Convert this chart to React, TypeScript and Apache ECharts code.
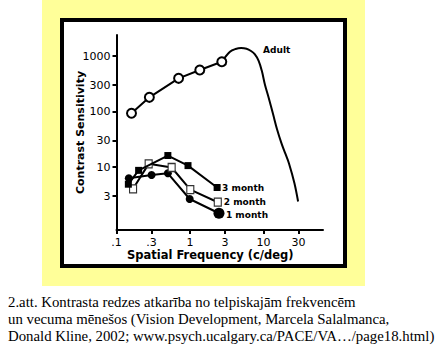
import React, { useEffect, useRef } from "react";
import * as echarts from "echarts";

// Axis ticks (real values) and their printed labels
const xTickValues = [0.1, 0.3, 1, 3, 10, 30];
const xTickLabels = [".1", ".3", "1", "3", "10", "30"];
const yTickValues = [3, 10, 30, 100, 300, 1000];
const yTickLabels = ["3", "10", "30", "100", "300", "1000"];
const xRange = [0.1, 64.6];
const yRange = [0.733, 2390];

// Adult: measured points (open circles) and the fitted curve beyond them
const adultFreq = [0.16, 0.28, 0.7, 1.36, 2.71];
const adultSens = [93, 180, 396, 560, 789];
const adultCurveFreq = [2.71, 3.5, 4.17, 4.96, 5.89, 6.77, 7.6, 8.6, 9.5, 10.5, 11.8, 13.5, 15.3, 17.6, 20, 22.2, 26.4, 29.6];
const adultCurveSens = [789, 1194, 1337, 1393, 1353, 1230, 1080, 820, 540, 300, 175, 90, 48, 26.7, 17, 11.7, 5.1, 2.39];

// Infants
const month3Freq = [0.145, 0.2, 0.5, 0.94, 2.34];
const month3Sens = [4.9, 8.7, 16.1, 10.6, 4.27];
const month2Freq = [0.168, 0.274, 0.563, 1.01, 2.39];
const month2Sens = [4.05, 11.4, 9.8, 3.92, 2.32];
const month1Freq = [0.147, 0.3, 0.5, 0.99, 2.48];
const month1Sens = [6.25, 7.17, 7.7, 2.65, 1.47];

const seriesNames = ["Adult", "3 month", "2 month", "1 month"];

const captionLines = [
  "2.att. Kontrasta redzes atkarība no telpiskajām frekvencēm",
  "un vecuma mēnešos (Vision Development, Marcela Salalmanca,",
  "Donald Kline, 2002; www.psych.ucalgary.ca/PACE/VA…/page18.html)",
];

const lg = (v: number) => Math.log10(v);
const toData = (fx: number[], sy: number[]) => fx.map((f, i) => [lg(f), lg(sy[i])]);

const labelFor = (vals: number[], labels: string[]) => (v: number) => {
  const i = vals.findIndex((t) => Math.abs(lg(t) - v) < 1e-6);
  return i >= 0 ? labels[i] : "";
};

const FONT = "DejaVu Sans";
const SERIF = "'Liberation Serif', 'Times New Roman', serif";

function withEndLabel(data: number[][], text: string, distance: number, offsetY: number) {
  return data.map((d, i) =>
    i === data.length - 1
      ? {
          value: d,
          label: {
            show: true,
            position: "right",
            distance,
            offset: [0, offsetY],
            formatter: text,
            fontFamily: FONT,
            fontWeight: "bold",
            fontSize: 9,
            color: "#000",
          },
        }
      : { value: d }
  );
}

export default function App() {
  const ref = useRef<HTMLDivElement>(null);
  useEffect(() => {
    if (!ref.current) return;
    const chart = echarts.init(ref.current, null, { renderer: "svg" });

    const adultCurve = toData(adultCurveFreq, adultCurveSens);
    let peak = 0;
    adultCurveSens.forEach((s, i) => {
      if (s > adultCurveSens[peak]) peak = i;
    });
    const adultCurveData = adultCurve.map((d, i) =>
      i === peak
        ? {
            value: d,
            label: {
              show: true,
              position: "right",
              distance: 22,
              offset: [0, 2],
              formatter: seriesNames[0],
              fontFamily: FONT,
              fontWeight: "bold",
              fontSize: 9,
              color: "#000",
            },
          }
        : { value: d }
    );

    const line = { color: "#000", width: 2 };
    const m1Data = withEndLabel(toData(month1Freq, month1Sens), seriesNames[3], 1.5, 2);

    chart.setOption({
      animation: false,
      backgroundColor: "#ffffff",
      grid: { left: 116.5, top: 35, width: 206.5, height: 195, containLabel: false, outerBoundsMode: "none" },
      xAxis: {
        type: "value",
        min: lg(xRange[0]),
        max: lg(xRange[1]),
        name: "Spatial Frequency (c/deg)",
        nameLocation: "middle",
        nameGap: 19,
        nameMoveOverlap: false,
        nameTextStyle: {
          fontFamily: FONT,
          fontWeight: "bold",
          fontSize: 11.5,
          color: "#000",
          padding: [0, 19, 0, 0],
        },
        axisLine: { show: true, onZero: false, lineStyle: { color: "#000", width: 2 } },
        axisTick: {
          show: true,
          length: 4,
          lineStyle: { color: "#000", width: 2 },
          customValues: xTickValues.map(lg),
        },
        axisLabel: {
          customValues: xTickValues.map(lg),
          formatter: labelFor(xTickValues, xTickLabels),
          fontFamily: FONT,
          fontSize: 11,
          color: "#000",
          margin: 7,
        },
        splitLine: { show: false },
      },
      yAxis: {
        type: "value",
        min: lg(yRange[0]),
        max: lg(yRange[1]),
        name: "Contrast Sensitivity",
        nameLocation: "middle",
        nameGap: 31,
        nameRotate: 90,
        nameMoveOverlap: false,
        nameTextStyle: { fontFamily: FONT, fontWeight: "bold", fontSize: 11, color: "#000" },
        axisLine: { show: true, onZero: false, lineStyle: { color: "#000", width: 2 } },
        axisTick: {
          show: true,
          length: 4,
          lineStyle: { color: "#000", width: 2 },
          customValues: yTickValues.map(lg),
        },
        axisLabel: {
          customValues: yTickValues.map(lg),
          formatter: labelFor(yTickValues, yTickLabels),
          fontFamily: FONT,
          fontSize: 11,
          color: "#000",
          margin: 6,
        },
        splitLine: { show: false },
      },
      graphic: {
        elements: [
          { type: "rect", z: -20, silent: true, shape: { x: 42, y: 0, width: 323, height: 286 }, style: { fill: "#FFFF99" } },
          {
            type: "rect",
            z: -10,
            silent: true,
            shape: { x: 62, y: 20, width: 283, height: 246 },
            style: { fill: "#ffffff", stroke: "#000", lineWidth: 4 },
          },
          {
            type: "text",
            silent: true,
            x: 8,
            y: 294,
            style: {
              text: captionLines.join("\n"),
              fontFamily: SERIF,
              fontSize: 14.8,
              lineHeight: 16.7,
              fill: "#000",
              verticalAlign: "top",
            },
          },
        ],
      },
      series: [
        {
          type: "line",
          name: "Adult curve",
          data: adultCurveData,
          symbol: "circle",
          symbolSize: 0,
          smooth: 0.35,
          lineStyle: line,
          itemStyle: { color: "rgba(0,0,0,0)" },
          z: 2,
        },
        {
          type: "line",
          name: seriesNames[0],
          data: toData(adultFreq, adultSens),
          symbol: "circle",
          symbolSize: 9,
          lineStyle: line,
          itemStyle: { color: "#fff", borderColor: "#000", borderWidth: 2 },
          z: 3,
        },
        {
          type: "line",
          name: seriesNames[3],
          data: m1Data,
          symbol: "circle",
          symbolSize: (_v: any, p: any) => (p.dataIndex === month1Freq.length - 1 ? 11 : 8),
          lineStyle: line,
          itemStyle: { color: "#000" },
          z: 3,
        },
        {
          type: "line",
          name: seriesNames[2],
          data: withEndLabel(toData(month2Freq, month2Sens), seriesNames[2], 2, 0),
          symbol: "rect",
          symbolSize: [7, 8],
          lineStyle: line,
          itemStyle: { color: "#fff", borderColor: "#333", borderWidth: 1.2 },
          z: 4,
        },
        {
          type: "line",
          name: seriesNames[1],
          data: withEndLabel(toData(month3Freq, month3Sens), seriesNames[1], 1.5, 0),
          symbol: "rect",
          symbolSize: 7,
          lineStyle: line,
          itemStyle: { color: "#000" },
          z: 5,
        },
      ],
    });
    return () => chart.dispose();
  }, []);
  return <div ref={ref} style={{ position: "absolute", left: 0, top: 0, width: 444, height: 357 }} />;
}
